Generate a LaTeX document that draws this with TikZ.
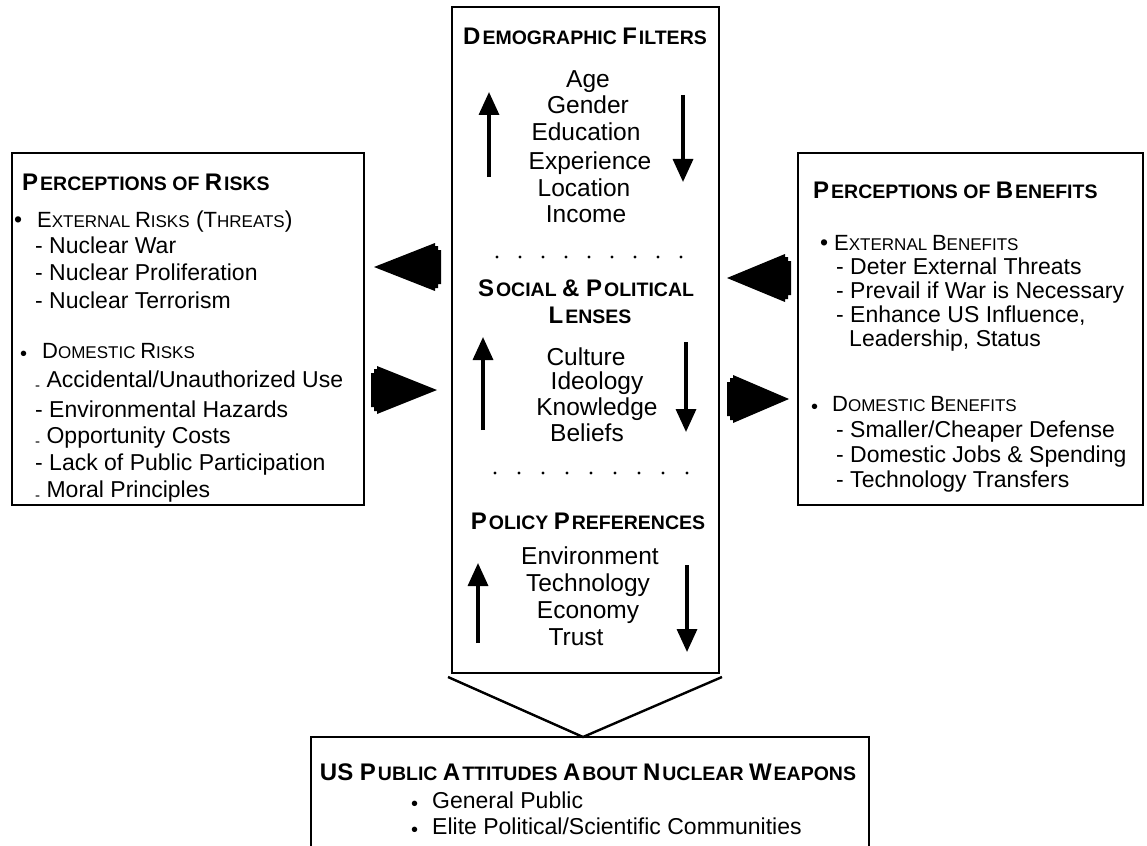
\documentclass[tikz,border=0pt]{standalone}
\usepackage{fontspec}
\setmainfont{Liberation Sans}
\usetikzlibrary{arrows.meta}

\newcommand{\hsc}[2]{{\fontsize{24}{28}\selectfont #1}\kern2pt{\fontsize{19.5}{28}\selectfont #2}}
\newcommand{\lsc}[2]{{\fontsize{22}{27}\selectfont #1}{\fontsize{17}{27}\selectfont #2}}
\newcommand{\lowdash}{\raisebox{-3pt}{\fontsize{15}{15}\selectfont -}}
\newcommand{\smbul}{\raisebox{-2pt}{\fontsize{20}{20}\selectfont •}}

\begin{document}
\begin{tikzpicture}[x=1pt,y=-1pt,line join=miter,
  box/.style={draw,line width=2.4pt,inner sep=0pt},
  item/.style={anchor=base west,inner sep=0pt,font=\fontsize{23}{27}\selectfont},
  head/.style={anchor=base west,inner sep=0pt,font=\bfseries\fontsize{24}{28}\selectfont},
  list/.style={anchor=base,inner sep=0pt,font=\fontsize{24.5}{28}\selectfont},
  flow/.style={line width=3.4pt,-{Triangle[length=23pt,width=20pt]}},
  ]
  \useasboundingbox (0,0) rectangle (1147,845);
  \clip (0,0) rectangle (1147,845);

  % boxes
  \node[box,minimum width=352,minimum height=352] (risks) at (188,329) {};
  \node[box,minimum width=345,minimum height=352] (gains) at (970.5,329) {};
  \node[box,minimum width=267,minimum height=666] (lens) at (585.5,340) {};
  \node[box,minimum width=558,minimum height=163] (public) at (590,818.5) {};

  \coordinate (chev_l) at (448,677);
  \coordinate (chev_r) at (722,677);
  \coordinate (apex) at (583,737);
  \draw[line width=2.4pt] (chev_l) -- (apex) -- (chev_r);

  % block arrows between the boxes
  \foreach \tx/\bx/\cy/\s in {374/435/267/1, 437/377/390/-1, 727/785/278/1, 789/733/399/-1} {
    \fill (\tx,\cy) -- (\bx,\cy-24) -- (\bx,\cy-21) -- (\bx+3*\s,\cy-21) -- (\bx+3*\s,\cy-17)
      -- (\bx+6*\s,\cy-17) -- (\bx+6*\s,\cy+17) -- (\bx+3*\s,\cy+17) -- (\bx+3*\s,\cy+21)
      -- (\bx,\cy+21) -- (\bx,\cy+24) -- cycle;
  }

  % perceptions of risks
  \node[head] (risk_0) at (22,190) {\hsc{P}{ERCEPTIONS OF }\hsc{R}{ISKS}};
  \node[item] (risk_b1) at (14,227) {•};
  \node[item] (risk_1) at (37,227) {\lsc{E}{XTERNAL }\lsc{R}{ISKS} (\lsc{T}{HREATS})};
  \node[item] (risk_2) at (35,253) {- Nuclear War};
  \node[item] (risk_3) at (35,280) {- Nuclear Proliferation};
  \node[item] (risk_4) at (35,308) {- Nuclear Terrorism};
  \node[item] (risk_b2) at (20,358) {\smbul};
  \node[item] (risk_5) at (42,358) {\lsc{D}{OMESTIC }\lsc{R}{ISKS}};
  \node[item] (risk_6) at (35,387) {\lowdash\ Accidental/Unauthorized Use};
  \node[item] (risk_7) at (35,417) {- Environmental Hazards};
  \node[item] (risk_8) at (35,443) {\lowdash\ Opportunity Costs};
  \node[item] (risk_9) at (35,470) {- Lack of Public Participation};
  \node[item] (risk_10) at (35,497) {\lowdash\ Moral Principles};

  % perceptions of benefits
  \node[head] (gain_0) at (813,198) {\hsc{P}{ERCEPTIONS OF }\hsc{B}{ENEFITS}};
  \node[item] (gain_b1) at (820,250) {•};
  \node[item] (gain_1) at (834,250) {\lsc{E}{XTERNAL }\lsc{B}{ENEFITS}};
  \node[item] (gain_2) at (836,274) {- Deter External Threats};
  \node[item] (gain_3) at (836,298) {- Prevail if War is Necessary};
  \node[item] (gain_4) at (836,322) {- Enhance US Influence,};
  \node[item] (gain_5) at (849,346) {Leadership, Status};
  \node[item] (gain_b2) at (811,411) {\smbul};
  \node[item] (gain_6) at (832,411) {\lsc{D}{OMESTIC }\lsc{B}{ENEFITS}};
  \node[item] (gain_7) at (836,437) {- Smaller/Cheaper Defense};
  \node[item] (gain_8) at (836,462) {- Domestic Jobs \& Spending};
  \node[item] (gain_9) at (836,487) {- Technology Transfers};

  % demographic filters
  \node[head,anchor=base] (demo_0) at (585,45) {\hsc{D}{EMOGRAPHIC }\hsc{F}{ILTERS}};
  \node[list] (demo_1) at (588,88) {Age};
  \node[list] (demo_2) at (588,114) {Gender};
  \node[list] (demo_3) at (586,141) {Education};
  \node[list] (demo_4) at (590,169) {Experience};
  \node[list] (demo_5) at (584,196) {Location};
  \node[list] (demo_6) at (586,222) {Income};
  \coordinate (demo_up_s) at (489,177);
  \coordinate (demo_up_e) at (489,92);
  \coordinate (demo_dn_s) at (683,95);
  \coordinate (demo_dn_e) at (683,182);
  \draw[flow] (demo_up_s) -- (demo_up_e);
  \draw[flow] (demo_dn_s) -- (demo_dn_e);

  \foreach \i in {0,...,8} \fill (497+\i*23,257) circle (1.6pt);

  % social and political lenses
  \node[head,anchor=base] (lens_0) at (586,296) {\hsc{S}{OCIAL }\& \hsc{P}{OLITICAL}};
  \node[head,anchor=base] (lens_1) at (590,323) {\hsc{L}{ENSES}};
  \node[list] (lens_2) at (586,365) {Culture};
  \node[list] (lens_3) at (597,389) {Ideology};
  \node[list] (lens_4) at (597,415) {Knowledge};
  \node[list] (lens_5) at (587,441) {Beliefs};
  \coordinate (lens_up_s) at (483,430);
  \coordinate (lens_up_e) at (483,337);
  \coordinate (lens_dn_s) at (686,342);
  \coordinate (lens_dn_e) at (686,432);
  \draw[flow] (lens_up_s) -- (lens_up_e);
  \draw[flow] (lens_dn_s) -- (lens_dn_e);

  \foreach \i in {0,...,8} \fill (495+\i*24,473) circle (1.6pt);

  % policy preferences
  \node[head,anchor=base] (pol_0) at (588,529) {\hsc{P}{OLICY }\hsc{P}{REFERENCES}};
  \node[list] (pol_1) at (590,564) {Environment};
  \node[list] (pol_2) at (588,591) {Technology};
  \node[list] (pol_3) at (588,618) {Economy};
  \node[list] (pol_4) at (576,645) {Trust};
  \coordinate (pol_up_s) at (478,643);
  \coordinate (pol_up_e) at (478,563);
  \coordinate (pol_dn_s) at (687,565);
  \coordinate (pol_dn_e) at (687,652);
  \draw[flow] (pol_up_s) -- (pol_up_e);
  \draw[flow] (pol_dn_s) -- (pol_dn_e);

  % public attitudes
  \node[head,anchor=base] (pub_0) at (588,780) {US \hsc{P}{UBLIC }\hsc{A}{TTITUDES }\hsc{A}{BOUT }\hsc{N}{UCLEAR }\hsc{W}{EAPONS}};
  \node[item] (pub_b1) at (411,808) {\smbul};
  \node[item] (pub_1) at (432,808) {General Public};
  \node[item] (pub_b2) at (411,834) {\smbul};
  \node[item] (pub_2) at (432,834) {Elite Political/Scientific Communities};
%
\end{tikzpicture}
\end{document}
